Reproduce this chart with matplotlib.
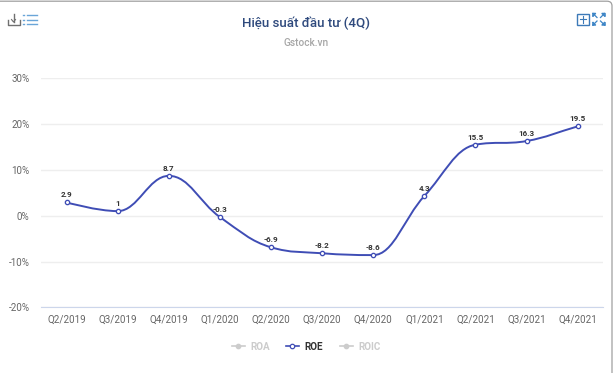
import matplotlib
matplotlib.use("Agg")
import matplotlib.pyplot as plt
from matplotlib.path import Path
from matplotlib.patches import PathPatch, Rectangle

plt.rcParams['font.family'] = ['Roboto', 'DejaVu Sans']

# ####################################### DATA ################################################################ #
quarters = ["Q2/2019", "Q3/2019", "Q4/2019", "Q1/2020", "Q2/2020", "Q3/2020",
            "Q4/2020", "Q1/2021", "Q2/2021", "Q3/2021", "Q4/2021"]
roe = [2.9, 1, 8.7, -0.3, -6.9, -8.2, -8.6, 4.3, 15.5, 16.3, 19.5]
y_ticks = [-20, -10, 0, 10, 20, 30]
legend_names = ["ROA", "ROE", "ROIC"]

LINE_COL = "#3f4db5"
W, H = 614, 373


# ####################################### Functions ########################################################### #
def spline_path(xs, ys):
    """Smooth line through the points, same control point rule as a highcharts spline"""
    smoothing = 1.5
    denom = smoothing + 1
    verts = [(xs[0], ys[0])]
    codes = [Path.MOVETO]
    right_prev = (xs[0], ys[0])
    for i in range(1, len(xs)):
        x, y = xs[i], ys[i]
        lx = (smoothing * x + xs[i - 1]) / denom
        ly = (smoothing * y + ys[i - 1]) / denom
        rx, ry = x, y
        if i < len(xs) - 1:
            rx = (smoothing * x + xs[i + 1]) / denom
            ry = (smoothing * y + ys[i + 1]) / denom
            corr = (ry - ly) * (rx - x) / (rx - lx) + y - ry
            ly += corr
            ry += corr
            # no overshoot past the neighbours
            if ly > ys[i - 1] and ly > y:
                ly = max(ys[i - 1], y)
                ry = 2 * y - ly
            elif ly < ys[i - 1] and ly < y:
                ly = min(ys[i - 1], y)
                ry = 2 * y - ly
            if ry > ys[i + 1] and ry > y:
                ry = max(ys[i + 1], y)
                ly = 2 * y - ry
            elif ry < ys[i + 1] and ry < y:
                ry = min(ys[i + 1], y)
                ly = 2 * y - ry
        verts += [right_prev, (lx, ly), (x, y)]
        codes += [Path.CURVE4, Path.CURVE4, Path.CURVE4]
        right_prev = (rx, ry)
    return Path(verts, codes)


fig = plt.figure(figsize=(W / 100, H / 100), dpi=100)

# pixel overlay for the frame, icons and legend
ov = fig.add_axes([0, 0, 1, 1])
ov.set_xlim(0, W)
ov.set_ylim(H, 0)
ov.axis("off")

# chart area, 30% gridline at y=78.3 and -20% at y=307.3
ax = fig.add_axes([41.1 / W, 1 - 307.3 / H, (603.2 - 41.1) / W, 229 / H])
ax.patch.set_alpha(0)
xpos = list(range(len(quarters)))
ax.set_xlim(-0.5, len(quarters) - 0.5)
ax.set_ylim(-20, 30)
ax.set_yticks(y_ticks)
ax.set_yticklabels([str(v) + "%" for v in y_ticks])
ax.set_xticks(xpos)
ax.set_xticklabels(quarters)
ax.tick_params(axis="both", length=0, labelsize=7.1, labelcolor="#666666")
ax.tick_params(axis="x", pad=5.4)
ax.tick_params(axis="y", pad=8.4)
ax.grid(axis="y", color="#eeeeee", lw=1)
ax.set_axisbelow(True)
for s in ["top", "left", "right"]:
    ax.spines[s].set_visible(False)
ax.spines["bottom"].set_color("#ccd6eb")
ax.spines["bottom"].set_linewidth(0.8)

ax.add_patch(PathPatch(spline_path(xpos, roe), fc="none", ec=LINE_COL, lw=1.4))
ax.plot(xpos, roe, ls="none", marker="o", ms=3.1, mfc="white", mec=LINE_COL, mew=0.95)
for x, v in zip(xpos, roe):
    ax.annotate(str(v), (x, v), xytext=(0, 3.0), textcoords="offset points", ha="center",
                va="bottom", fontsize=5.8, fontweight="bold", color="#333333")

# titles
ov.text(306.5, 23, "Hiệu suất đầu tư (4Q)", ha="center", va="center", fontsize=9.5,
        fontweight="medium", color="#2f4a7d")
ov.text(306, 42.5, "Gstock.vn", ha="center", va="center", fontsize=7.3, fontweight="medium",
        color="#a6a6a6")

# outer frame, top line and right side with rounded corner
frame = Path([(0, 1.2), (607, 1.2), (612, 1.2), (612, 6), (612, 373)],
             [Path.MOVETO, Path.LINETO, Path.CURVE3, Path.CURVE3, Path.LINETO])
ov.add_patch(PathPatch(frame, fc="none", ec="#a0a0a0", lw=0.9))

# download icon
ov.plot([7.5, 7.5, 19.5, 19.5], [20, 24.7, 24.7, 20], color="#707070", lw=1)
ov.plot([13.5, 13.5], [13.5, 22], color="#707070", lw=1)
ov.plot([11.5, 13.5, 15.5], [19.5, 22, 19.5], color="#707070", lw=0.8)
# menu icon
for yy in [15, 19.5, 24]:
    ov.plot([26.5, 36.5], [yy, yy], color="#6aa5d8", lw=1)
    ov.plot([23, 24], [yy, yy], color="#6aa5d8", lw=1)
# plus box icon
ov.add_patch(Rectangle((577, 13.5), 11.5, 11.5, fc="none", ec="#3d7ab8", lw=1))
ov.plot([582.7, 582.7], [16, 22.5], color="#3d7ab8", lw=0.8)
ov.plot([579.5, 586], [19.2, 19.2], color="#3d7ab8", lw=0.8)
# expand icon, four short arrows pointing at the corners
for cx, cy, dx, dy in [(593, 13.5, 1, 1), (604.5, 13.5, -1, 1), (593, 25, 1, -1), (604.5, 25, -1, -1)]:
    ov.plot([cx, cx + 4 * dx], [cy, cy + 4 * dy], color="#3d85c6", lw=0.9)
    ov.plot([cx, cx + 2.4 * dx, cx], [cy + 2.4 * dy, cy, cy], color="#3d85c6", lw=1.1)
    ov.plot([cx, cx], [cy, cy + 2.4 * dy], color="#3d85c6", lw=1.1)

# legend
legend_x = [238, 292, 346]
for name, lx in zip(legend_names, legend_x):
    active = name == "ROE"
    col = LINE_COL if active else "#cccccc"
    ov.plot([lx - 6.5, lx + 6.5], [346.3, 346.3], color=col, lw=1.2)
    ov.plot([lx], [346.3], marker="o", ms=3.2, mfc="white" if active else "#cccccc", mec=col, mew=0.9)
    ov.text(lx + 12, 346.8, name, ha="left", va="center", fontsize=7.1, fontweight="bold",
            color="#333333" if active else "#cccccc")

fig.savefig("out.png", dpi=100)
